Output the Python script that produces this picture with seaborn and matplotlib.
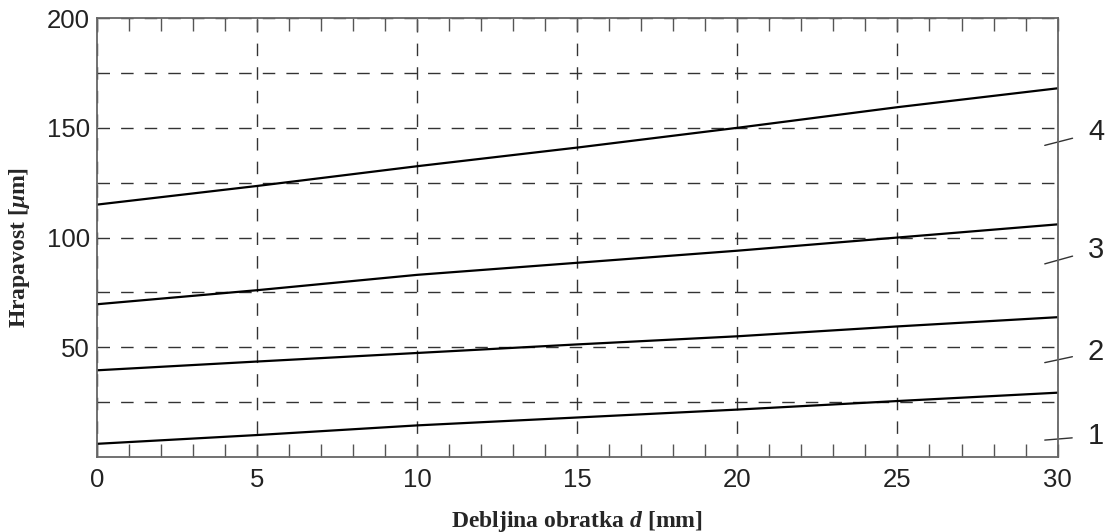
import numpy as np
import pandas as pd
import matplotlib
matplotlib.use("Agg")
import matplotlib.pyplot as plt
import seaborn as sns

# values
d = [0, 5, 10, 15, 20, 25, 30]
curve_1 = [6.0, 10.0, 14.4, 18.0, 21.6, 25.5, 29.3]
curve_2 = [39.5, 43.5, 47.4, 51.3, 55.0, 59.5, 63.7]
curve_3 = [69.6, 76.0, 83.0, 88.5, 94.0, 100.0, 106.0]
curve_4 = [115.0, 123.5, 132.5, 141.0, 150.0, 159.4, 168.0]
curve_names = ["1", "2", "3", "4"]
# leader line start (y at d=29.6) and label y position
leader_start = [7.7, 43.0, 88.0, 142.0]
label_y = [9.6, 48.0, 94.5, 148.0]

x_ticks = [0, 5, 10, 15, 20, 25, 30]
y_ticks = [25, 50, 75, 100, 125, 150, 175, 200]
y_ticklabels = ["", "50", "", "100", "", "150", "", "200"]

sns.set_style("ticks")
plt.rcParams["font.family"] = ["Liberation Sans", "DejaVu Sans"]
plt.rcParams["mathtext.fontset"] = "custom"
plt.rcParams["mathtext.it"] = "Liberation Serif:italic:bold"
plt.rcParams["mathtext.rm"] = "Liberation Serif:bold"

df = pd.DataFrame({
    "d": d * 4,
    "R": curve_1 + curve_2 + curve_3 + curve_4,
    "curve": sum([[n] * len(d) for n in curve_names], []),
})

fig = plt.figure(figsize=(11.17, 5.32), dpi=100)
ax = fig.add_axes([0.0868, 0.141, 0.860, 0.825])

sns.lineplot(data=df, x="d", y="R", hue="curve", palette=["black"] * 4,
             legend=False, linewidth=1.6, ax=ax, zorder=3)

ax.set_xlim(0, 30)
ax.set_ylim(0, 200)
ax.set_xticks(x_ticks)
ax.set_xticks(np.arange(0, 31, 1), minor=True)
ax.set_yticks(y_ticks)
ax.set_yticklabels(y_ticklabels)

ax.tick_params(axis="x", which="both", direction="in", top=True, bottom=True,
               length=9.5, width=1, color="#555555", labelsize=18.5, pad=8,
               labelcolor="#222222")
ax.tick_params(axis="y", which="both", length=0, labelsize=18.5, pad=5,
               labelcolor="#222222")

ax.grid(True, which="major", axis="both", color="#333333", linewidth=1.0,
        linestyle=(0, (9, 8)))
for s in ax.spines.values():
    s.set_color("#666666")
    s.set_linewidth(1.3)
    s.set_zorder(4)

ax.set_xlabel(r"Debljina obratka $d$ [mm]", family="Liberation Serif",
              fontweight="bold", fontsize=17)
ax.xaxis.set_label_coords(0.5, -0.118)
ax.set_ylabel(r"Hrapavost [$\mu$m]", family="Liberation Serif",
              fontweight="bold", fontsize=17)
ax.yaxis.set_label_coords(-0.068, 0.478)

for name, y0, y1 in zip(curve_names, leader_start, label_y):
    ax.annotate(name, xy=(29.6, y0), xytext=(31.2, y1), textcoords="data",
                fontsize=21, color="#222222", va="center", ha="center",
                annotation_clip=False,
                arrowprops=dict(arrowstyle="-", color="#333333", lw=1.0,
                                shrinkA=9, shrinkB=0))

fig.savefig("out.png", dpi=100)
